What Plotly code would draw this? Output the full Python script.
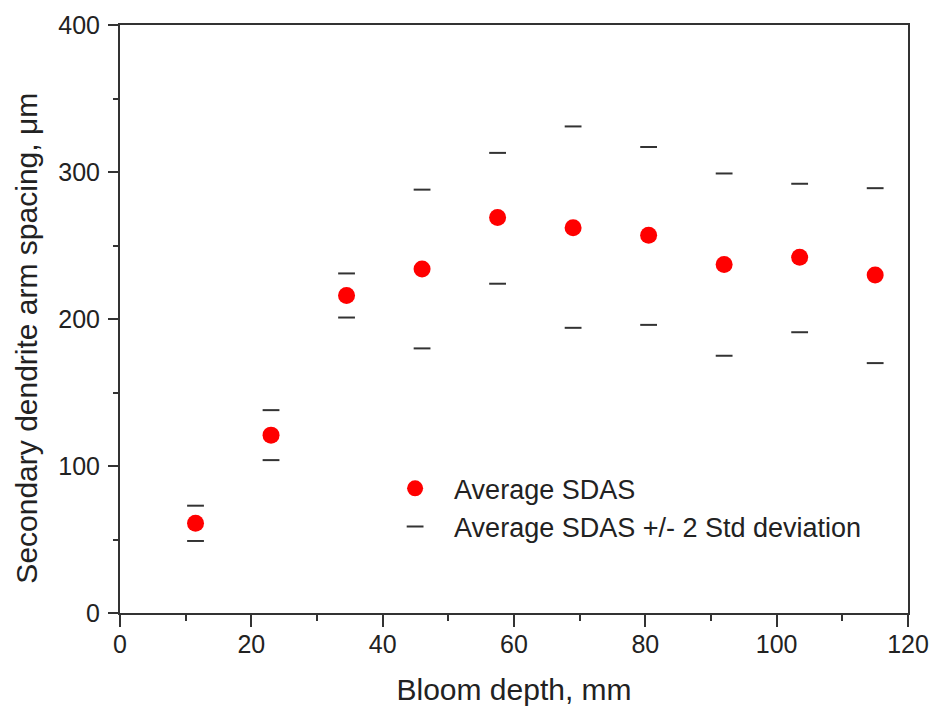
import plotly.graph_objects as go

depth = [11.5, 23, 34.5, 46, 57.5, 69, 80.5, 92, 103.5, 115]
avg_sdas = [61, 121, 216, 234, 269, 262, 257, 237, 242, 230]
upper = [73, 138, 231, 288, 313, 331, 317, 299, 292, 289]
lower = [49, 104, 201, 180, 224, 194, 196, 175, 191, 170]

fig = go.Figure()
fig.add_trace(go.Scatter(
    x=depth, y=avg_sdas, mode="markers", name="Average SDAS",
    marker=dict(symbol="circle", size=17, color="#ff0000"),
))
fig.add_trace(go.Scatter(
    x=depth + depth, y=upper + lower, mode="markers",
    name="Average SDAS +/- 2 Std deviation",
    marker=dict(symbol="line-ew", size=12, color="#333333",
                line=dict(width=2, color="#333333")),
))

font_family = "Liberation Sans, Arial, sans-serif"
axis_color = "#333333"
fig.update_layout(
    width=934, height=708,
    margin=dict(l=120, r=26, t=25, b=95),
    plot_bgcolor="white", paper_bgcolor="white",
    font=dict(family=font_family, size=25, color="#222222"),
    showlegend=True,
    legend=dict(x=0.325, y=0.253, xanchor="left", yanchor="top",
                bgcolor="rgba(0,0,0,0)", font=dict(size=27),
                itemwidth=68, tracegroupgap=0),
    xaxis=dict(
        range=[0, 120], tickvals=[0, 20, 40, 60, 80, 100, 120],
        showgrid=False, zeroline=False, automargin=False,
        showline=True, linecolor=axis_color, linewidth=2, mirror=True,
        ticks="outside", ticklen=12, tickwidth=2, tickcolor=axis_color,
        minor=dict(dtick=10, ticks="outside", ticklen=6, tickwidth=2, tickcolor=axis_color),
        ticklabelstandoff=-4,
        title=dict(text="Bloom depth, mm", font=dict(size=30), standoff=22),
    ),
    yaxis=dict(
        range=[0, 400], tickvals=[0, 100, 200, 300, 400],
        showgrid=False, zeroline=False, automargin=False,
        showline=True, linecolor=axis_color, linewidth=2, mirror=True,
        ticks="outside", ticklen=10, tickwidth=2, tickcolor=axis_color,
        minor=dict(dtick=50, ticks="outside", ticklen=5, tickwidth=2, tickcolor=axis_color),
        ticklabelstandoff=3,
    ),
    annotations=[dict(
        text="Secondary dendrite arm spacing, μm",
        xref="paper", yref="paper", x=-0.119, y=0.467,
        xanchor="center", yanchor="middle", textangle=-90,
        showarrow=False, font=dict(size=30, color="#222222"),
    )],
)

fig.write_html("out.html")
